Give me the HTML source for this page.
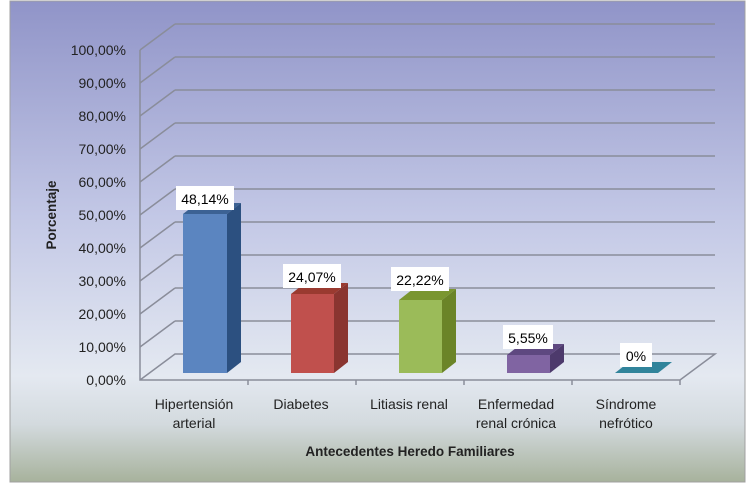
<!DOCTYPE html>
<html><head><meta charset="utf-8"><style>
body{margin:0;background:#fff;width:753px;height:490px;overflow:hidden}
</style></head><body>
<svg width="753" height="490" xmlns="http://www.w3.org/2000/svg" font-family="Liberation Sans, sans-serif">
<defs>
<linearGradient id="bg" x1="0" y1="0" x2="0" y2="1">
<stop offset="0" stop-color="#9094c8"/>
<stop offset="0.45" stop-color="#c3c8e6"/>
<stop offset="0.78" stop-color="#e4e9f1"/>
<stop offset="0.88" stop-color="#d3dade"/>
<stop offset="1" stop-color="#a7b29c"/>
</linearGradient>
</defs>
<rect x="10" y="1" width="735" height="481" fill="url(#bg)" stroke="#a0a0a0"/>
<g stroke="#8a8d9a" stroke-width="1.5" fill="none">
<path d="M175,24 L715,24 M175,57 L715,57 M175,90 L715,90 M175,123 L715,123 M175,156 L715,156 M175,189 L715,189 M175,222 L715,222 M175,255 L715,255 M175,288 L715,288 M175,321 L715,321"/>
<path d="M140,50 L175,24 M140,83 L175,57 M140,116 L175,90 M140,149 L175,123 M140,182 L175,156 M140,215 L175,189 M140,248 L175,222 M140,281 L175,255 M140,314 L175,288 M140,347 L175,321"/>
<path d="M140,50 L140,380 L680,380 L715,354 L175,354 L140,380"/>
<path d="M248,380 v5 M356,380 v5 M464,380 v5 M572,380 v5 M680,380 v5"/>
</g>
<!-- bars -->
<g>
<polygon points="183,214 227,214 241,203 197,203" fill="#3c6294"/><rect x="183" y="214" width="44" height="159" fill="#5b85c0"/><polygon points="227,214 241,203 241,362 227,373" fill="#2c5080"/>
<polygon points="291,294 334,294 348,283 305,283" fill="#9a3a30"/><rect x="291" y="294" width="43" height="79" fill="#c0504d"/><polygon points="334,294 348,283 348,362 334,373" fill="#8a3530"/>
<polygon points="399,300 442,300 456,289 413,289" fill="#7a9630"/><rect x="399" y="300" width="43" height="73" fill="#9bbb59"/><polygon points="442,300 456,289 456,362 442,373" fill="#6b8428"/>
<polygon points="507,355 550,355 564,344 521,344" fill="#5e4880"/><rect x="507" y="355" width="43" height="18" fill="#8064a2"/><polygon points="550,355 564,344 564,362 550,373" fill="#4d3a6c"/>
<polygon points="615,373 658,373 672,362 629,362" fill="#31849b"/>
</g>
<g font-size="14" fill="#000" text-anchor="middle">
<rect x="176" y="186" width="58" height="24" fill="#fff"/><text x="205" y="204">48,14%</text>
<rect x="283" y="264" width="58" height="24" fill="#fff"/><text x="312" y="282">24,07%</text>
<rect x="391" y="267" width="58" height="24" fill="#fff"/><text x="420" y="285">22,22%</text>
<rect x="503" y="325" width="50" height="24" fill="#fff"/><text x="528" y="343">5,55%</text>
<rect x="620" y="343" width="32" height="24" fill="#fff"/><text x="636" y="361">0%</text>
</g>
<g font-size="14" fill="#222" text-anchor="end">
<text x="126" y="55">100,00%</text><text x="126" y="88">90,00%</text><text x="126" y="121">80,00%</text><text x="126" y="154">70,00%</text><text x="126" y="187">60,00%</text><text x="126" y="220">50,00%</text><text x="126" y="253">40,00%</text><text x="126" y="286">30,00%</text><text x="126" y="319">20,00%</text><text x="126" y="352">10,00%</text><text x="126" y="385">0,00%</text>
</g>
<g font-size="14" fill="#222" text-anchor="middle">
<text x="194" y="409">Hipertensión</text><text x="194" y="428">arterial</text>
<text x="301" y="409">Diabetes</text>
<text x="409" y="409">Litiasis renal</text>
<text x="516" y="409">Enfermedad</text><text x="516" y="428">renal crónica</text>
<text x="626" y="409">Síndrome</text><text x="626" y="428">nefrótico</text>
<text x="410" y="456" font-weight="bold" font-size="13.5">Antecedentes Heredo Familiares</text>
<text transform="translate(56,215) rotate(-90)" font-weight="bold" font-size="13.5">Porcentaje</text>
</g>
</svg>
</body></html>
